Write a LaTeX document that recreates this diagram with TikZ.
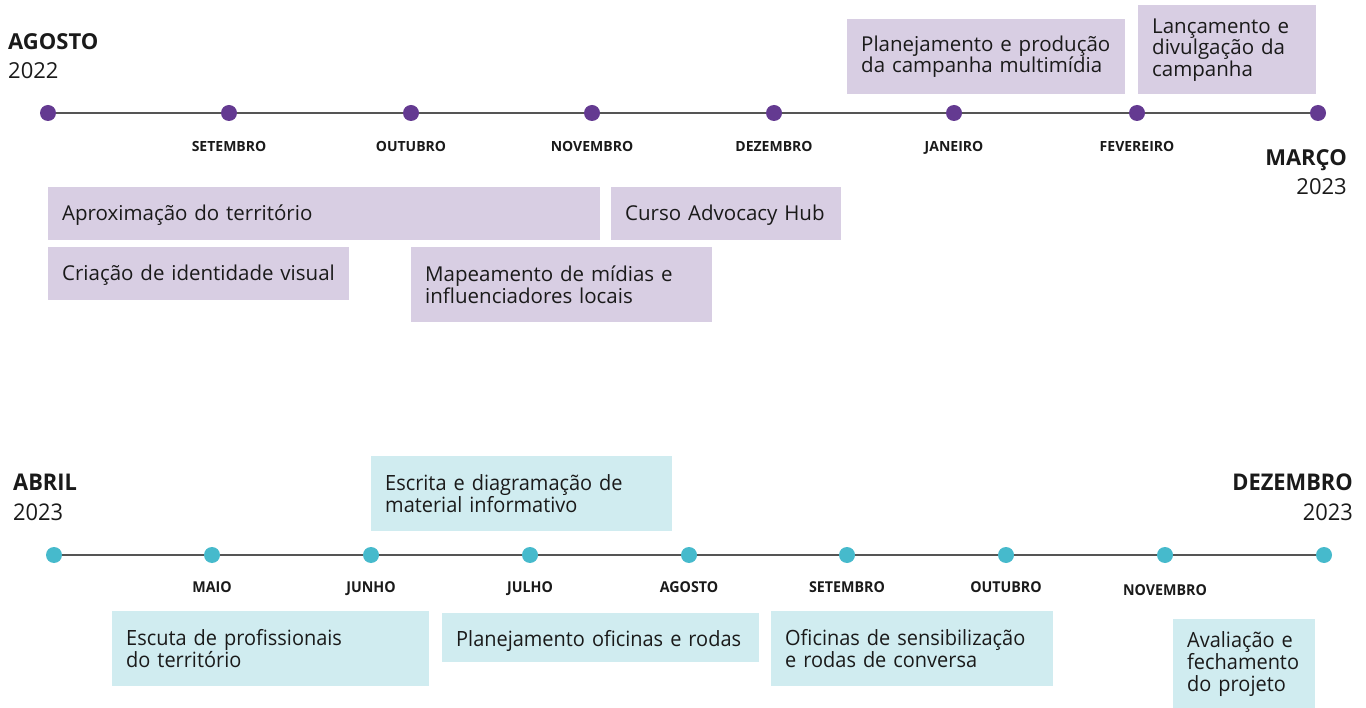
\documentclass[tikz,border=0pt]{standalone}
\usepackage{fontspec}
\setmainfont{Open Sans}
\newfontfamily\estreita{Open Sans}[FakeStretch=0.95]
\definecolor{roxo}{RGB}{100,58,145}
\definecolor{lilas}{RGB}{216,206,227}
\definecolor{ciano}{RGB}{70,186,204}
\definecolor{agua}{RGB}{208,236,240}
\definecolor{cinza}{RGB}{85,85,85}
\definecolor{texto}{RGB}{26,26,26}
\tikzstyle{ponto} = [circle, inner sep=0pt, minimum size=16pt]
\tikzstyle{roxoponto} = [ponto, fill=roxo]
\tikzstyle{cianoponto} = [ponto, fill=ciano]
\tikzstyle{eixo} = [draw=cinza, line width=2.5pt]
\tikzstyle{mes} = [inner sep=0pt, anchor=base, text=texto, font={\fontsize{14}{16}\selectfont\bfseries}]
\tikzstyle{mes2} = [mes, font={\estreita\fontsize{15}{16}\selectfont\bfseries}]
\tikzstyle{marco} = [inner sep=0pt, text=texto, font={\fontsize{22}{29}\selectfont}]
\tikzstyle{marco2} = [marco, font={\estreita\fontsize{23}{30}\selectfont}]
\tikzstyle{etapa} = [anchor=north west, inner xsep=14pt, inner ysep=0pt, align=left, text=texto, font={\fontsize{20.5}{21.5}\selectfont}]
\tikzstyle{fase1} = [etapa, fill=lilas]
\tikzstyle{fase2} = [etapa, fill=agua, font={\estreita\fontsize{21}{22}\selectfont}]

\begin{document}
\begin{tikzpicture}[x=1pt,y=-1pt]
        \useasboundingbox[fill=white] (0,0) rectangle (1366,708);
        \node[marco,anchor=north west,align=left](ago) at (8,33){\textbf{AGOSTO}\\2022};
        \node[marco,anchor=north east,align=right](mar) at (1347,149){\textbf{MARÇO}\\2023};
        \node[roxoponto](t0) at (48,113){};
        \node[roxoponto](t1) at (229,113){};
        \node[roxoponto](t2) at (411,113){};
        \node[roxoponto](t3) at (592,113){};
        \node[roxoponto](t4) at (774,113){};
        \node[roxoponto](t5) at (954,113){};
        \node[roxoponto](t6) at (1137,113){};
        \node[roxoponto](t7) at (1318,113){};
        \draw[eixo](t0)--(t1)--(t2)--(t3)--(t4)--(t5)--(t6)--(t7);
        \node[mes](set) at (229,152){SETEMBRO};
        \node[mes](out) at (411,152){OUTUBRO};
        \node[mes](nov) at (592,152){NOVEMBRO};
        \node[mes](dez) at (774,152){DEZEMBRO};
        \node[mes](jan) at (954,152){JANEIRO};
        \node[mes](fev) at (1137,152){FEVEREIRO};
        \node[fase1,minimum width=552pt,minimum height=53pt,text width=524pt,text height=18pt,text depth=5pt](aprox) at (48,187){Aproximação do território};
        \node[fase1,minimum width=301pt,minimum height=53pt,text width=273pt,text height=18pt,text depth=5pt](ident) at (48,247){Criação de identidade visual};
        \node[fase1,minimum width=230pt,minimum height=53pt,text width=202pt,text height=18pt,text depth=5pt](curso) at (611,187){Curso Advocacy Hub};
        \node[fase1,minimum width=301pt,minimum height=75pt,text width=273pt](midias) at (411,247){Mapeamento de mídias e\\influenciadores locais};
        \node[fase1,minimum width=278pt,minimum height=75pt,text width=250pt](plan) at (847,19){Planejamento e produção\\da campanha multimídia};
        \node[fase1,minimum width=178pt,minimum height=89pt,text width=150pt](lanc) at (1138,5){Lançamento e\\divulgação da\\campanha};

        \node[marco2,anchor=north west,align=left](abr) at (13,474){\textbf{ABRIL}\\2023};
        \node[marco2,anchor=north east,align=right](dez2) at (1353,474){\textbf{DEZEMBRO}\\2023};
        \node[cianoponto](b0) at (54,555){};
        \node[cianoponto](b1) at (212,555){};
        \node[cianoponto](b2) at (371,555){};
        \node[cianoponto](b3) at (530,555){};
        \node[cianoponto](b4) at (689,555){};
        \node[cianoponto](b5) at (847,555){};
        \node[cianoponto](b6) at (1006,555){};
        \node[cianoponto](b7) at (1165,555){};
        \node[cianoponto](b8) at (1324,555){};
        \draw[eixo](b0)--(b1)--(b2)--(b3)--(b4)--(b5)--(b6)--(b7)--(b8);
        \node[mes2](mai) at (212,592){MAIO};
        \node[mes2](jun) at (371,592){JUNHO};
        \node[mes2](jul) at (530,592){JULHO};
        \node[mes2](ago2) at (689,592){AGOSTO};
        \node[mes2](set2) at (847,592){SETEMBRO};
        \node[mes2](out2) at (1006,592){OUTUBRO};
        \node[mes2](nov2) at (1165,595){NOVEMBRO};
        \node[fase2,minimum width=301pt,minimum height=75pt,text width=273pt](escrita) at (371,456){Escrita e diagramação de\\material informativo};
        \node[fase2,minimum width=317pt,minimum height=75pt,text width=289pt](escuta) at (112,611){Escuta de profissionais\\do território};
        \node[fase2,minimum width=317pt,minimum height=49pt,text width=289pt,text height=23pt,text depth=5pt](oficinas) at (442,613){Planejamento oficinas e rodas};
        \node[fase2,minimum width=282pt,minimum height=75pt,text width=254pt](rodas) at (771,611){Oficinas de sensibilização\\e rodas de conversa};
        \node[fase2,minimum width=142pt,minimum height=89pt,text width=114pt](aval) at (1173,619){Avaliação e\\fechamento\\do projeto};
      \end{tikzpicture}
\end{document}
